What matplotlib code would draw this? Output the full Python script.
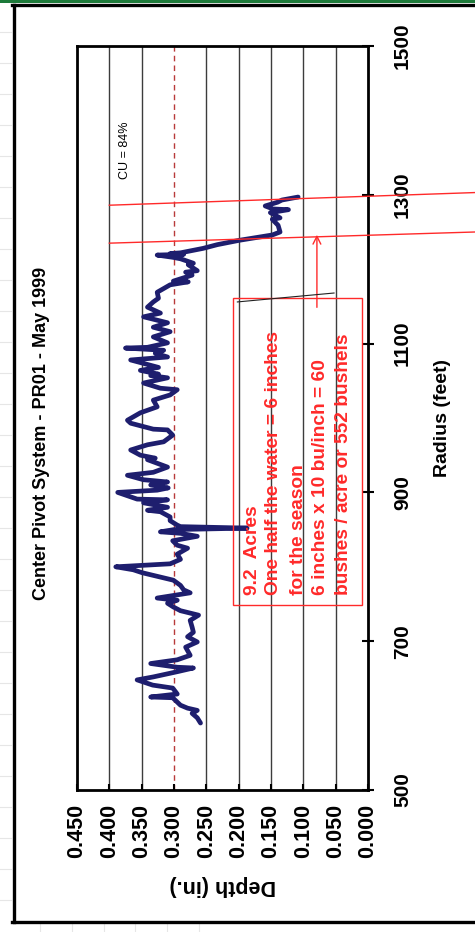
import matplotlib
matplotlib.use("Agg")
import matplotlib.pyplot as plt
from matplotlib.patches import Rectangle
from matplotlib.lines import Line2D

# Water application depth along the pivot lateral (catch-can survey)
radius_ft = [590, 597, 603, 607, 610, 614, 624, 625, 629, 637, 641, 648, 652, 659,
             664, 665, 670, 675, 681, 692, 699, 706, 712, 719, 728, 735, 741, 746,
             751, 755, 758, 765, 769, 775, 782, 792, 796, 800, 802, 804, 810, 817,
             825, 829, 835, 841, 845, 847, 850, 852, 854, 856, 862, 867, 874, 876,
             880, 886, 890, 891, 900, 903, 906, 910, 914, 917, 923, 927, 934, 944,
             946, 950, 957, 964, 968, 977, 984, 985, 993, 997, 1007, 1015, 1024,
             1031, 1038, 1040, 1047, 1054, 1057, 1059, 1064, 1068, 1078, 1082,
             1087, 1091, 1094, 1095, 1101, 1109, 1116, 1122, 1128, 1136, 1141,
             1149, 1156, 1161, 1169, 1179, 1183, 1184, 1192, 1196, 1198, 1206,
             1208, 1214, 1216, 1219, 1220, 1221, 1222, 1228, 1233, 1239, 1246,
             1250, 1259, 1267, 1269, 1276, 1280, 1281, 1285, 1290, 1293, 1297]
depth_in = [0.259, 0.264, 0.272, 0.264, 0.279, 0.290, 0.302, 0.336, 0.295, 0.302,
            0.333, 0.357, 0.332, 0.295, 0.270, 0.295, 0.336, 0.295, 0.275, 0.282,
            0.264, 0.279, 0.270, 0.272, 0.275, 0.262, 0.290, 0.301, 0.310, 0.295,
            0.326, 0.275, 0.285, 0.290, 0.301, 0.349, 0.363, 0.390, 0.347, 0.306,
            0.290, 0.295, 0.279, 0.295, 0.302, 0.264, 0.290, 0.321, 0.300, 0.187,
            0.290, 0.295, 0.306, 0.306, 0.321, 0.341, 0.310, 0.347, 0.310, 0.357,
            0.387, 0.326, 0.309, 0.336, 0.310, 0.347, 0.372, 0.332, 0.310, 0.341,
            0.329, 0.352, 0.367, 0.341, 0.316, 0.302, 0.310, 0.332, 0.367, 0.372,
            0.352, 0.326, 0.332, 0.306, 0.295, 0.321, 0.347, 0.310, 0.336, 0.324,
            0.352, 0.324, 0.367, 0.310, 0.329, 0.316, 0.375, 0.341, 0.310, 0.332,
            0.306, 0.332, 0.310, 0.347, 0.321, 0.341, 0.332, 0.324, 0.326, 0.306,
            0.278, 0.301, 0.272, 0.282, 0.264, 0.278, 0.270, 0.290, 0.302, 0.326,
            0.285, 0.306, 0.290, 0.255, 0.233, 0.198, 0.148, 0.136, 0.139, 0.148,
            0.136, 0.151, 0.123, 0.147, 0.159, 0.140, 0.133, 0.108]

depth_ticks = [0.45, 0.40, 0.35, 0.30, 0.25, 0.20, 0.15, 0.10, 0.05, 0.00]
radius_ticks = [500, 700, 900, 1100, 1300, 1500]
target_depth = 0.30
cu_label = "CU = 84%"
title = "Center Pivot System - PR01 - May 1999"
note_lines = ["9.2  Acres",
              "One half the water = 6 inches",
              "for the season",
              "6 inches x 10 bu/inch = 60",
              "bushes / acre or 552 bushels"]

plt.rcParams['font.family'] = ['Liberation Sans', 'DejaVu Sans']

W, H = 475, 932
fig = plt.figure(figsize=(W / 100, H / 100), dpi=100)
fig.patch.set_facecolor('white')


def fx(px):
    return px / W


def fy(py):
    return 1 - py / H


# sheet gridlines around the chart object
for py in range(900, 10, -31):
    fig.add_artist(Line2D([0, fx(11)], [fy(py), fy(py)], color='#e6e6e6', lw=0.8))
for px in [40, 72, 104, 135, 167, 199]:
    fig.add_artist(Line2D([fx(px), fx(px)], [fy(924), 0], color='#e6e6e6', lw=0.8))

# chart object frame
fig.add_artist(Rectangle((0, fy(3)), 1, 3 / H, transform=fig.transFigure,
                         facecolor='#1d7a3a', edgecolor='none'))
fig.add_artist(Line2D([fx(12), 1], [fy(5), fy(5)], color='black', lw=2.4))
fig.add_artist(Line2D([fx(13.5), fx(13.5)], [fy(5), fy(922)], color='black', lw=2.4))
fig.add_artist(Line2D([fx(12), 1], [fy(922), fy(922)], color='black', lw=2.4))

ax = fig.add_axes([fx(77), fy(790), fx(368) - fx(77), fy(46) - fy(790)])
ax.set_xlim(0.45, 0.0)
ax.set_ylim(500, 1500)

for s in ax.spines.values():
    s.set_linewidth(2.0)
    s.set_color('black')

# vertical depth gridlines
for d in depth_ticks[1:-1]:
    if abs(d - target_depth) > 1e-9:
        ax.axvline(d, color='#3c3c3c', lw=1.0, zorder=1)
ax.axvline(target_depth, color='#b83a3a', lw=1.0, ls=(0, (4, 3)), zorder=1)

ax.set_xticks(depth_ticks)
ax.set_xticklabels([f"{d:.3f}" for d in depth_ticks], rotation=90,
                   fontsize=15.5, fontweight='bold')
ax.tick_params(axis='x', direction='in', length=4, width=1.5, pad=10)

ax.yaxis.tick_right()
ax.set_yticks(radius_ticks)
ax.set_yticklabels([str(r) for r in radius_ticks], rotation=90,
                   fontsize=15, fontweight='bold', va='center')
ax.tick_params(axis='y', direction='inout', length=8, width=1.5, pad=14)

ax.set_xlabel("Depth (in.)", rotation=180, fontsize=15.5, fontweight='bold', labelpad=12)
ax.yaxis.set_label_position('right')
ax.set_ylabel("Radius (feet)", rotation=90, fontsize=14, fontweight='bold', labelpad=16)

ax.plot(depth_in, radius_ft, color='#1e1e6e', lw=3.4,
        solid_joinstyle='round', solid_capstyle='round', zorder=3)

red = '#ff2a2a'
# end-zone boundary lines
ax.plot([0.40, -0.165], [1286, 1303], color=red, lw=1.0, clip_on=False, zorder=4)
ax.plot([0.40, -0.165], [1235, 1250], color=red, lw=1.0, clip_on=False, zorder=4)
ax.annotate('', xy=(0.079, 1250), xytext=(0.079, 1145),
            arrowprops=dict(arrowstyle='->', color=red, lw=1.0, mutation_scale=14))

# yield note
ax.add_patch(Rectangle((0.0093, 749), 0.199, 412, fill=False, edgecolor=red,
                       lw=1.0, zorder=4))
ax.plot([0.202, 0.0525], [1156, 1168], color='#222222', lw=0.8, zorder=4)
for d, line in zip([0.179, 0.1466, 0.108, 0.074, 0.0386], note_lines):
    ax.text(d, 762, line, rotation=90, rotation_mode='anchor', ha='left',
            va='center', color=red, fontsize=13.8, fontweight='bold', zorder=5)

ax.text(0.375, 1360, cu_label, rotation=90, ha='center', va='center', fontsize=9)

fig.text(fx(42), fy(433), title, rotation=90, ha='center', va='center',
         fontsize=13, fontweight='bold')

fig.savefig('out.png', dpi=100)
